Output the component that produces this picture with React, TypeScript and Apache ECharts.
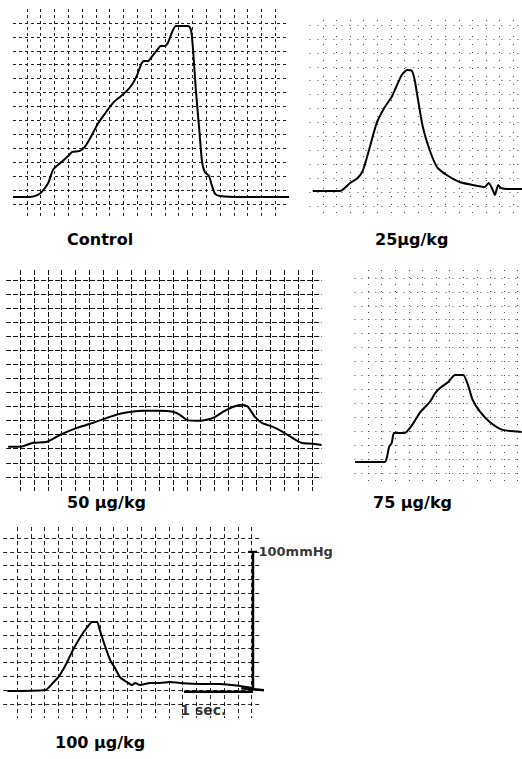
import React, { useEffect, useRef } from 'react';
import * as echarts from 'echarts';

// Traces: [time (s), pressure (mmHg, on each panel's paper scale)]
const controlTrace: [number, number][] = [
  [0, 15.1], [0.25, 15.1], [0.36, 16.5], [0.43, 19.4], [0.51, 25.1], [0.58, 34.5], [0.65, 38],
  [0.72, 40.9], [0.8, 44.5], [0.86, 47.4], [0.97, 48.1], [1.04, 51], [1.12, 57.4], [1.22, 66.8],
  [1.33, 74.7], [1.45, 82.6], [1.55, 86.9], [1.65, 91.2], [1.74, 96.9], [1.8, 102.7], [1.86, 110.6],
  [1.9, 112.7], [1.96, 112.7], [2.01, 115.6], [2.09, 120.6], [2.14, 123.5], [2.2, 123.5], [2.25, 126.3],
  [2.3, 132.8], [2.36, 137.8], [2.54, 137.8], [2.58, 135], [2.61, 120.6], [2.65, 91.9], [2.7, 63.2],
  [2.74, 40.2], [2.78, 33], [2.84, 30.2], [2.88, 23.7], [2.93, 17.2], [3.0, 15.8], [3.29, 15.1], [4.0, 15.1],
];
const dose25Trace: [number, number][] = [
  [0.05, 20.8], [0.45, 20.8], [0.6, 26.6], [0.71, 30.2], [0.79, 35.9], [0.89, 52.4], [0.99, 69.6],
  [1.11, 81.1], [1.21, 88.3], [1.29, 96.9], [1.36, 104.1], [1.44, 107.7], [1.51, 107], [1.55, 100.5],
  [1.6, 86.1], [1.67, 66.8], [1.77, 50.3], [1.88, 38], [2.02, 32.3], [2.21, 27.3], [2.41, 25.1],
  [2.58, 23.7], [2.64, 26.6], [2.7, 21.5], [2.73, 17.9], [2.78, 25.1], [2.82, 23], [2.92, 22.3], [3.13, 22.3],
];
const dose50Trace: [number, number][] = [
  [0.03, 21.3], [0.2, 21.3], [0.39, 24.2], [0.59, 24.9], [0.78, 29.9], [1.02, 34.8], [1.21, 37.7],
  [1.45, 41.9], [1.64, 44.8], [1.81, 46.2], [1.97, 46.9], [2.21, 46.9], [2.4, 46.2], [2.5, 44.1],
  [2.6, 40.5], [2.79, 39.8], [2.98, 41.9], [3.12, 46.2], [3.27, 49.8], [3.4, 51.2], [3.48, 49.8],
  [3.58, 42.6], [3.68, 38.4], [3.84, 35.5], [3.98, 32], [4.12, 27.7], [4.25, 24.2], [4.4, 23.5], [4.54, 22.7],
];
const dose75Trace: [number, number][] = [
  [0.01, 7.9], [0.45, 7.9], [0.48, 11.5], [0.51, 18.7], [0.55, 21.5], [0.58, 28.7], [0.64, 28.7],
  [0.74, 28.7], [0.85, 34.5], [0.96, 43.1], [1.04, 47.4], [1.11, 51], [1.19, 57.4], [1.26, 61],
  [1.38, 65.3], [1.48, 70.4], [1.6, 70.4], [1.67, 63.2], [1.74, 52.4], [1.85, 43.8], [1.99, 36.6],
  [2.18, 30.9], [2.46, 29.4],
];
const dose100Trace: [number, number][] = [
  [0.06, 19.5], [0.61, 20.2], [0.72, 25.3], [0.82, 31], [0.92, 39.7], [1.01, 49.1], [1.11, 57.8],
  [1.21, 65], [1.29, 69.3], [1.36, 69.3], [1.4, 63.5], [1.48, 51.3], [1.55, 41.9], [1.62, 36.1],
  [1.69, 29.6], [1.79, 26], [1.87, 23.8], [1.91, 25.3], [1.98, 23.8], [2.13, 25.3], [2.27, 25.3],
  [2.42, 26], [2.56, 25.3], [2.85, 24.5], [3.14, 24.5], [3.43, 23.1], [3.62, 21.7],
];

const panelLabels = ['Control', '25µg/kg', '50 µg/kg', '75 µg/kg', '100 µg/kg'];

// Calibration bars (panel 5)
const pressureBar: [number, number][] = [[3.62, 20], [3.62, 120]];
const pressureBarCap: [number, number][] = [[3.55, 120], [3.68, 120]];
const pressureBarTick: [number, number][] = [[3.57, 40], [3.67, 40]];
const pressureBarFoot: [number, number][] = [[3.45, 21.5], [3.8, 20]];
const pressureBarLabel = '100mmHg';
const timeBar: [number, number][] = [[2.62, 19], [3.62, 19]];
const timeBarLabel = '1 sec.';
const timeBarLabelPos: [number, number] = [2.56, 6];

const panels = [
  { trace: controlTrace, left: 13, top: 9, xMin: 0, xMax: 4.0, yMin: 0, yMax: 150, pxs: 69, pxm: 1.393,
    grid: { color: '#222', type: [3, 3] as number[] }, labelLeft: 67, labelTop: 231 },
  { trace: dose25Trace, left: 309.4, top: 20, xMin: 0, xMax: 3.13, yMin: 0, yMax: 143.6, pxs: 68, pxm: 1.393,
    grid: { color: '#444', type: [1, 7] as number[] }, labelLeft: 375, labelTop: 231 },
  { trace: dose50Trace, left: 6.1, top: 270, xMin: 0, xMax: 4.54, yMin: -10, yMax: 147, pxs: 69.5, pxm: 1.407,
    grid: { color: '#111', type: [5, 2] as number[] }, labelLeft: 67, labelTop: 494 },
  { trace: dose75Trace, left: 354.4, top: 270, xMin: 0, xMax: 2.46, yMin: -10, yMax: 145.7, pxs: 68, pxm: 1.393,
    grid: { color: '#444', type: [1, 6] as number[] }, labelLeft: 373, labelTop: 494 },
  { trace: dose100Trace, left: 3.2, top: 527, xMin: 0, xMax: 3.75, yMin: 0, yMax: 137.9, pxs: 69, pxm: 1.385,
    grid: { color: '#222', type: [4, 3] as number[] }, labelLeft: 55, labelTop: 734 },
];

export default function App() {
  const ref = useRef<HTMLDivElement>(null);
  useEffect(() => {
    if (!ref.current) return;
    const chart = echarts.init(ref.current, undefined, { renderer: 'svg' });
    const font = 'DejaVu Sans';
    const series: any[] = panels.map((p, i) => ({
      type: 'line',
      xAxisIndex: i,
      yAxisIndex: i,
      data: p.trace,
      showSymbol: false,
      smooth: 0.2,
      clip: false,
      lineStyle: { color: '#000', width: 2 },
    }));
    const barLine = (data: [number, number][], width: number) => ({
      type: 'line', xAxisIndex: 4, yAxisIndex: 4, data, showSymbol: false, clip: false,
      lineStyle: { color: '#000', width },
    });
    series.push(barLine(pressureBar, 2.5));
    series.push(barLine(pressureBarCap, 2));
    series.push(barLine(pressureBarTick, 1));
    series.push(barLine(pressureBarFoot, 2.5));
    series.push(barLine(timeBar, 2.5));
    series.push({
      type: 'scatter', xAxisIndex: 4, yAxisIndex: 4, clip: false, symbolSize: 1,
      itemStyle: { color: 'transparent' },
      data: [pressureBar[1]],
      label: { show: true, position: 'right', distance: 5, formatter: pressureBarLabel,
        color: '#000', fontFamily: font, fontWeight: 'bold', fontSize: 13 },
    });
    series.push({
      type: 'scatter', xAxisIndex: 4, yAxisIndex: 4, clip: false, symbolSize: 1,
      itemStyle: { color: 'transparent' },
      data: [timeBarLabelPos],
      label: { show: true, position: 'right', distance: 0, formatter: timeBarLabel,
        color: '#000', fontFamily: font, fontWeight: 'bold', fontSize: 14 },
    });

    chart.setOption({
      animation: false,
      backgroundColor: '#fff',
      title: panels.map((p, i) => ({
        text: panelLabels[i], left: p.labelLeft, top: p.labelTop, padding: 0,
        textStyle: { fontFamily: font, fontWeight: 'bold', fontSize: 16, color: '#000' },
      })),
      grid: panels.map((p) => ({
        left: p.left, top: p.top,
        width: (p.xMax - p.xMin) * p.pxs,
        height: (p.yMax - p.yMin) * p.pxm,
      })),
      xAxis: panels.map((p, i) => ({
        type: 'value', gridIndex: i, min: p.xMin, max: p.xMax, interval: 0.2,
        axisLine: { show: false }, axisTick: { show: false }, axisLabel: { show: false },
        splitLine: { show: true, showMinLine: false, showMaxLine: false,
          lineStyle: { color: p.grid.color, width: 1, type: p.grid.type } },
      })),
      yAxis: panels.map((p, i) => ({
        type: 'value', gridIndex: i, min: p.yMin, max: p.yMax, interval: 10,
        axisLine: { show: false }, axisTick: { show: false }, axisLabel: { show: false },
        splitLine: { show: true, showMinLine: false, showMaxLine: false,
          lineStyle: { color: p.grid.color, width: 1, type: p.grid.type } },
      })),
      series,
    });
    return () => chart.dispose();
  }, []);
  return (
    <div
      ref={ref}
      style={{ position: 'fixed', left: 0, top: 0, width: 522, height: 759, background: '#fff' }}
    />
  );
}
